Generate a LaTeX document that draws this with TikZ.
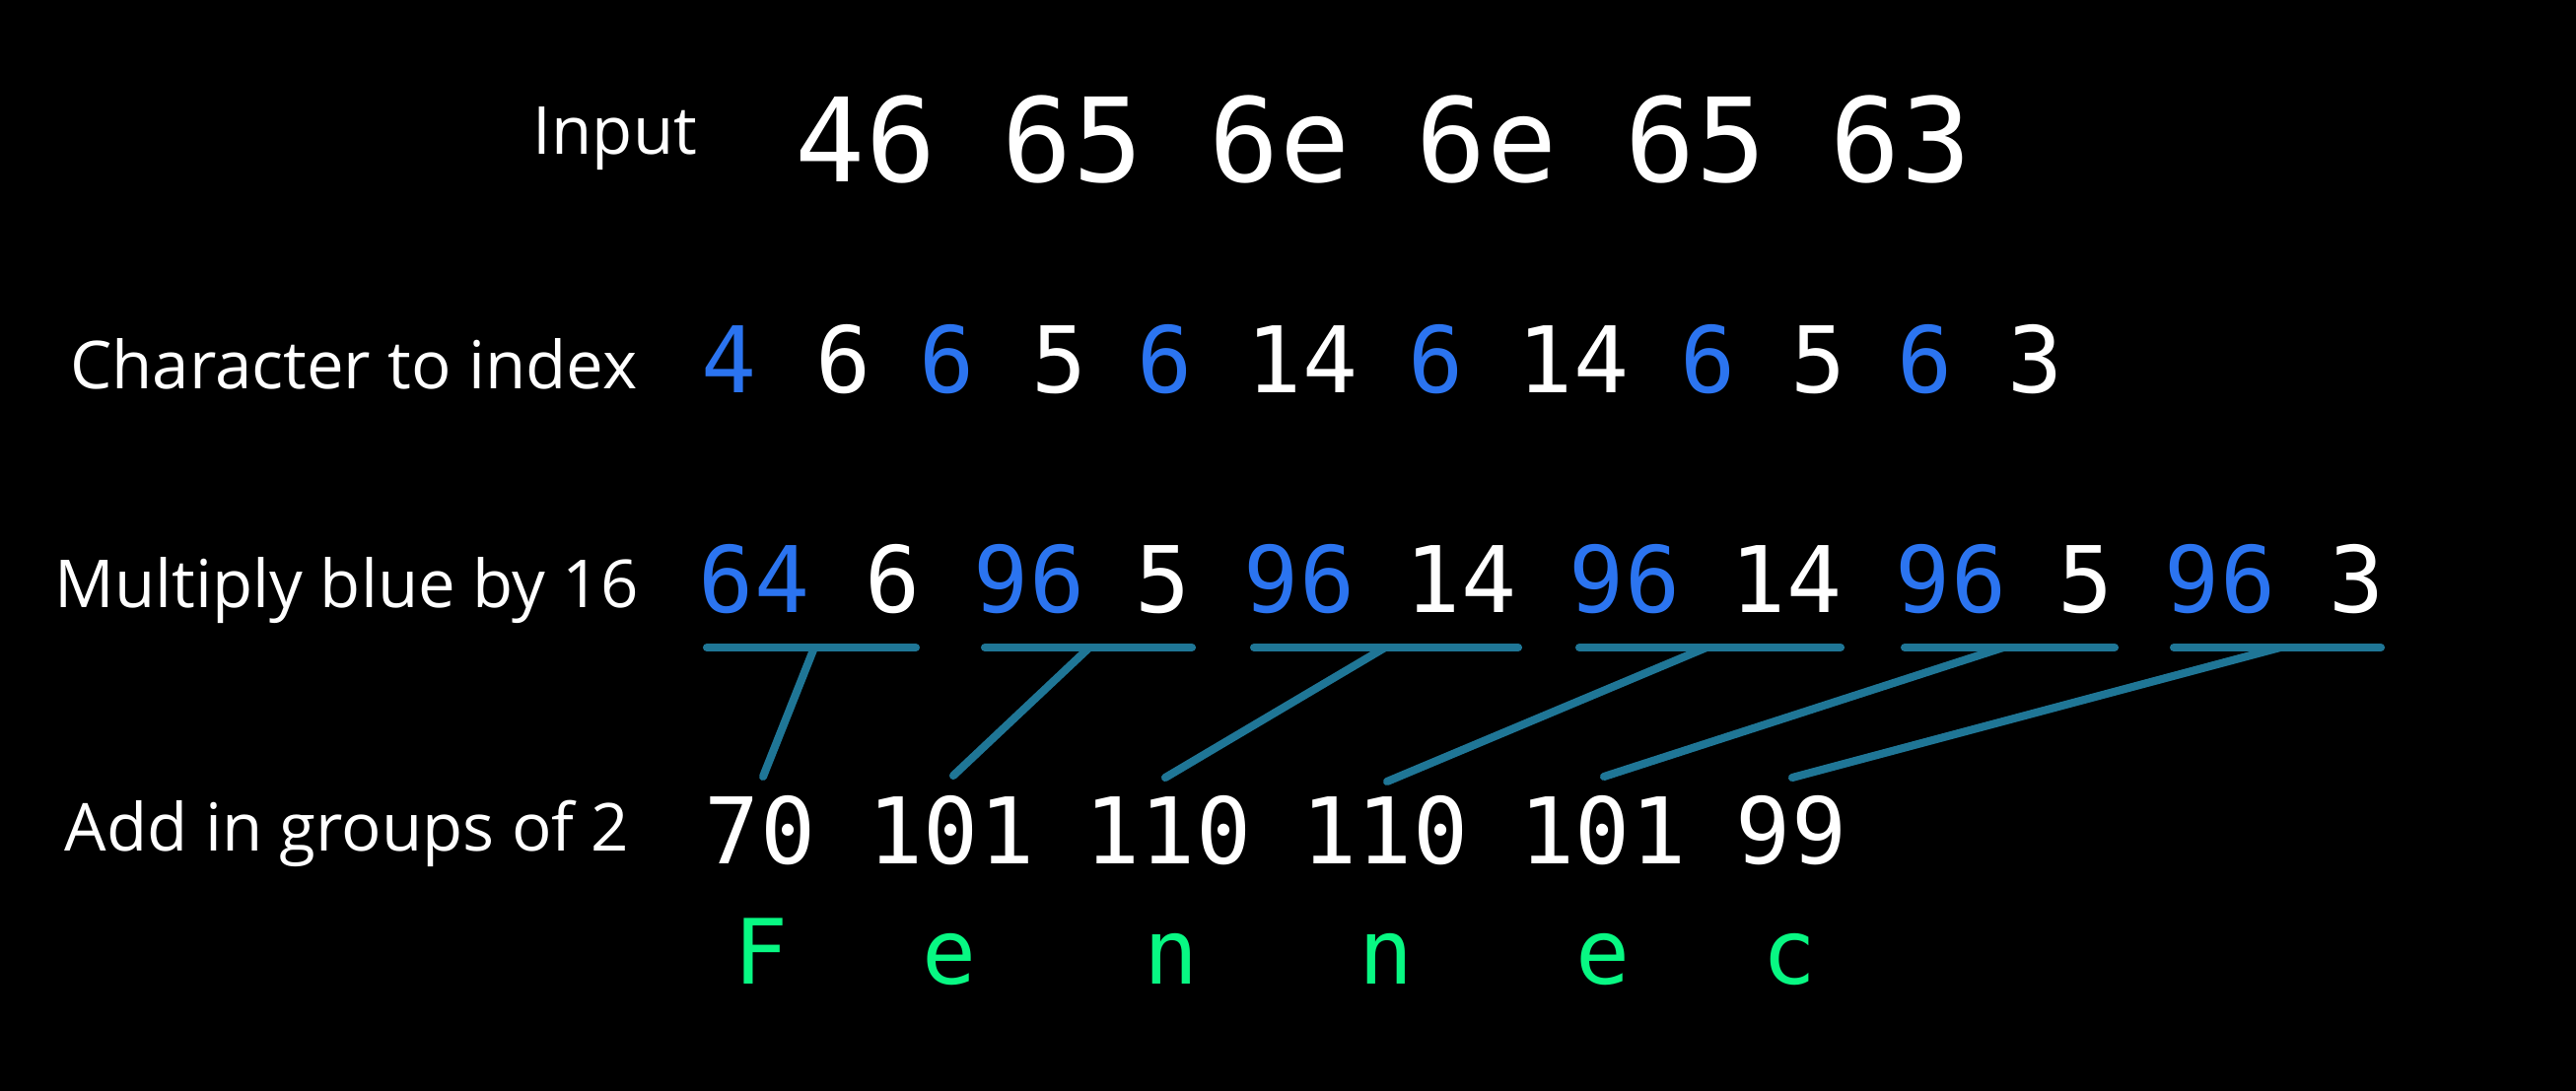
\documentclass[tikz,border=0pt]{standalone}
\usepackage{fontspec}
\usepackage{xcolor}
\usepackage{tikz}
\setmainfont{Open Sans}
\newfontfamily\digitfont{DejaVu Sans Mono}
\definecolor{indexblue}{RGB}{43, 116, 240}
\definecolor{groupteal}{RGB}{31, 118, 150}
\definecolor{lettergreen}{RGB}{8, 248, 131}

\begin{document}
\begin{tikzpicture}[x=0.01cm, y=-0.01cm]
    \tikzstyle{rowlabel} = [anchor=base east, inner sep=0pt, text=white, font=\fontsize{19.1}{23}\selectfont]
    \tikzstyle{hexbyte} = [anchor=base, inner sep=0pt, text=white, font=\digitfont\fontsize{33.6}{40}\selectfont]
    \tikzstyle{num} = [anchor=base, inner sep=0pt, text=white, font=\digitfont\fontsize{26.5}{32}\selectfont]
    \tikzstyle{bluenum} = [num, text=indexblue]
    \tikzstyle{letter} = [anchor=base, inner sep=0pt, text=lettergreen, font=\digitfont\fontsize{26}{31}\selectfont]
    \tikzstyle{bar} = [draw=groupteal, line width=2.3pt, line cap=round]

    \fill[black] (0,0) rectangle (2613,1107);
    \useasboundingbox (0,0) rectangle (2613,1107);

    % input row
    \node (inlabel) [anchor=base, inner sep=0pt, text=white, font=\fontsize{19.1}{23}\selectfont] at (624,157) {Input};
    \node (hex1) [hexbyte] at (878,185) {46};
    \node (hex2) [hexbyte] at (1088,185) {65};
    \node (hex3) [hexbyte] at (1298,185) {6e};
    \node (hex4) [hexbyte] at (1508,185) {6e};
    \node (hex5) [hexbyte] at (1720,185) {65};
    \node (hex6) [hexbyte] at (1928,185) {63};

    % character to index
    \node (idxlabel) [rowlabel] at (647,395) {Character to index};
    \node (idx1) [bluenum] at (740,399) {4};
    \node (idx2) [num] at (856,399) {6};
    \node (idx3) [bluenum] at (961,399) {6};
    \node (idx4) [num] at (1075,399) {5};
    \node (idx5) [bluenum] at (1182,399) {6};
    \node (idx6) [num] at (1321,399) {14};
    \node (idx7) [bluenum] at (1457,399) {6};
    \node (idx8) [num] at (1596,399) {14};
    \node (idx9) [bluenum] at (1733,399) {6};
    \node (idx10) [num] at (1845,399) {5};
    \node (idx11) [bluenum] at (1953,399) {6};
    \node (idx12) [num] at (2065,399) {3};

    % multiply blue by 16
    \node (mullabel) [rowlabel] at (648,617) {Multiply blue by 16};
    \node (mul1) [bluenum] at (765,622) {64};
    \node (mul2) [num] at (906,622) {6};
    \node (mul3) [bluenum] at (1044,622) {96};
    \node (mul4) [num] at (1180,622) {5};
    \node (mul5) [bluenum] at (1318,622) {96};
    \node (mul6) [num] at (1482,622) {14};
    \node (mul7) [bluenum] at (1648,622) {96};
    \node (mul8) [num] at (1812,622) {14};
    \node (mul9) [bluenum] at (1979,622) {96};
    \node (mul10) [num] at (2116,622) {5};
    \node (mul11) [bluenum] at (2252,622) {96};
    \node (mul12) [num] at (2391,622) {3};

    % add in groups of 2
    \node (addlabel) [rowlabel] at (639,863) {Add in groups of 2};
    \node (sum1) [num] at (771,876) {70};
    \node (sum2) [num] at (965,876) {101};
    \node (sum3) [num] at (1185,876) {110};
    \node (sum4) [num] at (1405,876) {110};
    \node (sum5) [num] at (1626,876) {101};
    \node (sum6) [num] at (1817,876) {99};

    \node (chr1) [letter] at (772,998) {F};
    \node (chr2) [letter] at (963,998) {e};
    \node (chr3) [letter] at (1188,998) {n};
    \node (chr4) [letter] at (1406,998) {n};
    \node (chr5) [letter] at (1626,998) {e};
    \node (chr6) [letter] at (1815,998) {c};

    % group bars and their joints
    \coordinate (bar1a) at (717,657);  \coordinate (bar1b) at (929,657);  \coordinate (join1) at (826,657);
    \coordinate (bar2a) at (999,657);  \coordinate (bar2b) at (1209,657); \coordinate (join2) at (1105,657);
    \coordinate (bar3a) at (1272,657); \coordinate (bar3b) at (1540,657); \coordinate (join3) at (1405,657);
    \coordinate (bar4a) at (1602,657); \coordinate (bar4b) at (1867,657); \coordinate (join4) at (1731,657);
    \coordinate (bar5a) at (1932,657); \coordinate (bar5b) at (2145,657); \coordinate (join5) at (2032,657);
    \coordinate (bar6a) at (2205,657); \coordinate (bar6b) at (2415,657); \coordinate (join6) at (2313,657);

    \coordinate (foot1) at (774,788);
    \coordinate (foot2) at (967,787);
    \coordinate (foot3) at (1182,789);
    \coordinate (foot4) at (1407,793);
    \coordinate (foot5) at (1627,788);
    \coordinate (foot6) at (1818,789);

    \draw [bar] (bar1a) -- (bar1b);
    \draw [bar] (bar2a) -- (bar2b);
    \draw [bar] (bar3a) -- (bar3b);
    \draw [bar] (bar4a) -- (bar4b);
    \draw [bar] (bar5a) -- (bar5b);
    \draw [bar] (bar6a) -- (bar6b);

    \draw [bar] (join1) -- (foot1);
    \draw [bar] (join2) -- (foot2);
    \draw [bar] (join3) -- (foot3);
    \draw [bar] (join4) -- (foot4);
    \draw [bar] (join5) -- (foot5);
    \draw [bar] (join6) -- (foot6);
\end{tikzpicture}
\end{document}
